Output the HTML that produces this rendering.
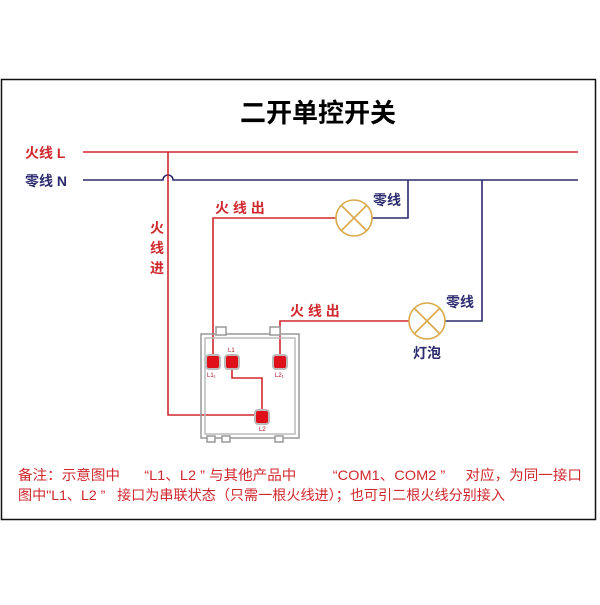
<!DOCTYPE html>
<html><head><meta charset="utf-8"><style>
body{margin:0;background:#fff;}
svg text{font-family:"Liberation Sans","Noto Sans CJK SC",sans-serif;}
</style></head><body>
<svg width="600" height="600" viewBox="0 0 600 600" xmlns="http://www.w3.org/2000/svg">
<rect x="0" y="0" width="600" height="600" fill="#fff"/>
<rect x="1.5" y="79.5" width="594" height="440" fill="none" stroke="#111" stroke-width="1.5"/>
<text x="318" y="122" font-size="26" font-weight="bold" text-anchor="middle" fill="#000">二开单控开关</text>
<text x="25" y="158" font-size="14" font-weight="bold" fill="#d0282e">火线 L</text>
<text x="25" y="186" font-size="14" font-weight="bold" fill="#2b2a6e">零线 N</text>
<g fill="none" stroke-width="1.6">
<line x1="83" y1="152" x2="578" y2="152" stroke="#d0282e"/>
<path d="M83 180 H163 A5 5 0 0 1 173 180 H578" stroke="#2b2a6e"/>
<path d="M168 152 V415 H258" stroke="#d0282e"/>
<path d="M213 360 V218 H336" stroke="#d0282e"/>
<path d="M372 218 H408 V180" stroke="#2b2a6e"/>
<path d="M280 360 V321 H409" stroke="#d0282e"/>
<path d="M445 321 H482 V180" stroke="#2b2a6e"/>
<path d="M232 362 V378 H262 V416" stroke="#d0282e"/>
</g>
<g fill="none" stroke="#d9a94a" stroke-width="1.6">
<circle cx="354" cy="218" r="18"/><path d="M341 205 L367 231 M367 205 L341 231"/>
<circle cx="427" cy="321" r="18"/><path d="M414 308 L440 334 M440 308 L414 334"/>
</g>
<g font-size="14" font-weight="bold" fill="#d0282e">
<text x="215" y="213">火 线 出</text>
<text x="290" y="316">火 线 出</text>
<text x="150" y="233">火</text><text x="150" y="253">线</text><text x="150" y="273">进</text>
</g>
<g font-size="14" font-weight="bold" fill="#2b2a6e">
<text x="373" y="205">零线</text>
<text x="446" y="307">零线</text>
<text x="413" y="358">灯泡</text>
</g>
<!-- switch -->
<g fill="none" stroke="#999" stroke-width="1.5">
<rect x="201" y="334" width="98" height="104"/>
<rect x="205" y="338" width="90" height="96" stroke="#bbb"/>
<rect x="216" y="327" width="10" height="8" fill="#fff"/>
<rect x="270" y="327" width="10" height="8" fill="#fff"/>
<rect x="207" y="436" width="8" height="6" fill="#fff"/>
<rect x="222" y="436" width="8" height="6" fill="#fff"/>
<rect x="275" y="436" width="8" height="6" fill="#fff"/>
</g>
<g stroke="#bbb" stroke-width="2" fill="#e0101a">
<rect x="206" y="355" width="14" height="14" rx="3"/>
<rect x="225" y="355" width="14" height="14" rx="3"/>
<rect x="273" y="355" width="14" height="14" rx="3"/>
<rect x="255" y="410" width="14" height="14" rx="3"/>
</g>
<g font-size="6" fill="#b01020">
<text x="228" y="352">L1</text><text x="207" y="377">L1₁</text>
<text x="275" y="377">L2₁</text><text x="259" y="431">L2</text>
</g>
<g font-size="14" fill="#d0282e">
<text x="18" y="480" textLength="564" lengthAdjust="spacingAndGlyphs">备注：示意图中 &#160;&#160;&#160;&#160;&#160;“L1、L2 ” 与其他产品中 &#160;&#160;&#160;&#160;&#160;&#160;&#160;&#160;“COM1、COM2 ” &#160;&#160;&#160;&#160;对应，为同一接口</text>
<text x="18" y="500" textLength="487" lengthAdjust="spacingAndGlyphs">图中"L1、L2 ” &#160;&#160;接口为串联状态（只需一根火线进）；也可引二根火线分别接入</text>
</g>
</svg>
</body></html>
